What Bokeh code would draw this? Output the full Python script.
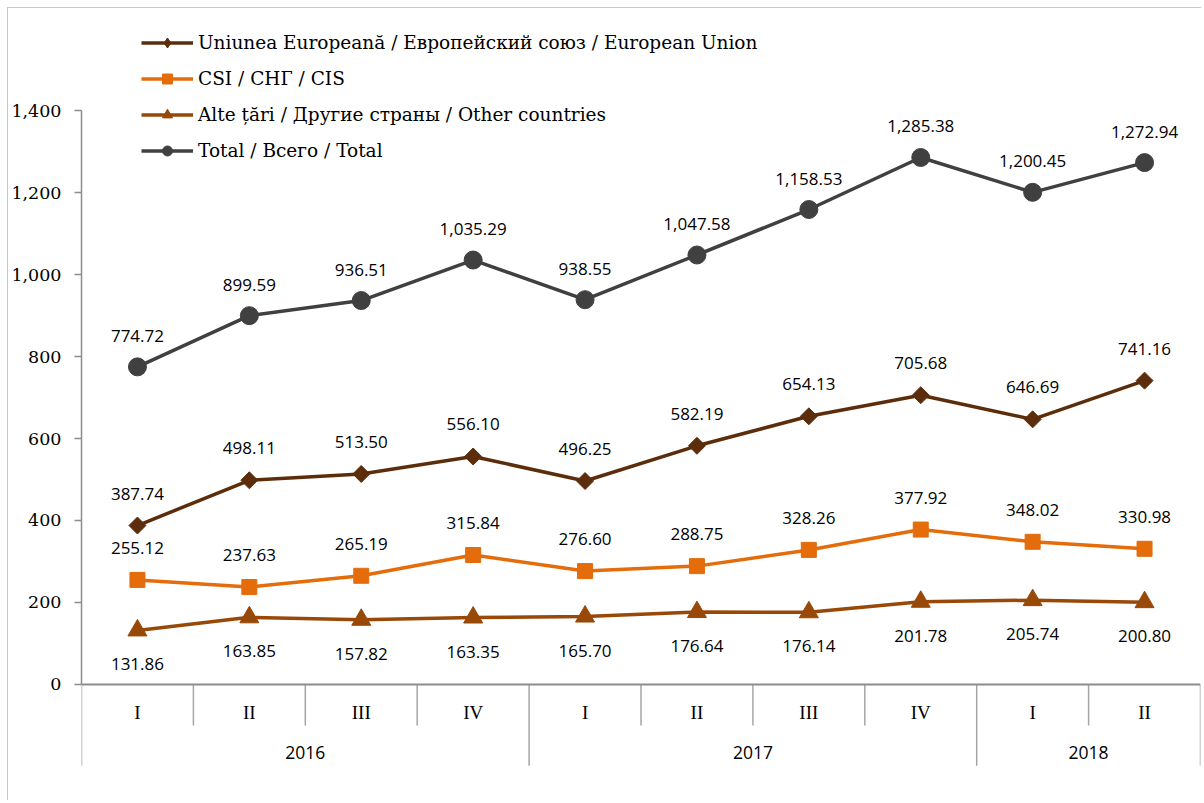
import math
from bokeh.plotting import figure
from bokeh.models import (Range1d, LinearAxis, FixedTicker, NumeralTickFormatter,
                          Span, Legend, LegendItem, ColumnDataSource)
from bokeh.core.properties import value
from bokeh.embed import file_html
from bokeh.resources import INLINE

# ---------------- data ----------------
quarters = ["I", "II", "III", "IV", "I", "II", "III", "IV", "I", "II"]
years = ["2016", "2017", "2018"]
year_counts = [4, 4, 2]

eu = [387.74, 498.11, 513.50, 556.10, 496.25, 582.19, 654.13, 705.68, 646.69, 741.16]
cis = [255.12, 237.63, 265.19, 315.84, 276.60, 288.75, 328.26, 377.92, 348.02, 330.98]
other = [131.86, 163.85, 157.82, 163.35, 165.70, 176.64, 176.14, 201.78, 205.74, 200.80]
total = [774.72, 899.59, 936.51, 1035.29, 938.55, 1047.58, 1158.53, 1285.38, 1200.45, 1272.94]

y_ticks = [0, 200, 400, 600, 800, 1000, 1200, 1400]

labels = [
    "Uniunea Europeană / Европейский союз / European Union",
    "CSI / СНГ / CIS",
    "Alte țări / Другие страны / Other countries",
    "Total / Всего / Total",
]

# ---------------- styles ----------------
C_EU = "#5c2d0b"
C_CIS = "#e46c0a"
C_OTH = "#984807"
C_TOT = "#404040"
AXIS_C = "#8c8c8c"
NUM_FONT = "Open Sans"
SERIF = "DejaVu Serif"

n = len(quarters)
xs = [i + 0.5 for i in range(n)]

p = figure(width=1194, height=793, output_backend="svg", toolbar_location=None,
           x_range=Range1d(0, n), y_range=Range1d(-280.5, 1648.8),
           x_axis_location=None, y_axis_location=None,
           min_border_left=72, min_border_right=2, min_border_top=0, min_border_bottom=2)
p.outline_line_color = None
p.background_fill_color = "white"
p.border_fill_color = "white"
p.xgrid.grid_line_color = None
p.ygrid.grid_line_color = None
p.grid.visible = False
p.styles = {"margin-left": "7px", "margin-top": "7px",
            "border-left": "1px solid #c8c8c8", "border-top": "1px solid #c8c8c8"}

yaxis = LinearAxis(ticker=FixedTicker(ticks=y_ticks),
                   formatter=NumeralTickFormatter(format="0,0"))
yaxis.bounds = (0, 1400)
yaxis.axis_line_color = AXIS_C
yaxis.axis_line_width = 1.5
yaxis.major_tick_line_color = AXIS_C
yaxis.major_tick_line_width = 1.5
yaxis.major_tick_out = 7
yaxis.major_tick_in = 0
yaxis.minor_tick_line_color = None
yaxis.major_label_text_font = SERIF
yaxis.major_label_text_font_size = "17.5px"
yaxis.major_label_text_color = "#000000"
yaxis.major_label_standoff = 13
p.add_layout(yaxis, "left")

# baseline
p.add_layout(Span(location=0, dimension="width", line_color=AXIS_C, line_width=2))

# category separators
bounds = list(range(n + 1))
year_edges = [0]
for c in year_counts:
    year_edges.append(year_edges[-1] + c)
short_b = [b for b in bounds if b not in year_edges]
p.segment(x0=short_b, y0=[0] * len(short_b), x1=short_b, y1=[-100] * len(short_b),
          line_color="#a6a6a6", line_width=1.5)
p.segment(x0=year_edges, y0=[0] * len(year_edges), x1=year_edges,
          y1=[-198] * len(year_edges), line_color="#a6a6a6", line_width=1.5)

# category labels
p.text(x=xs, y=[-68] * n, text=quarters, text_align="center", text_baseline="middle",
       text_font=value("Liberation Serif"), text_font_size="19px", text_color="#000000")
year_x = [(year_edges[i] + year_edges[i + 1]) / 2 for i in range(len(years))]
p.text(x=year_x, y=[-166] * len(years), text=years, text_align="center",
       text_baseline="middle", text_font=value(NUM_FONT), text_font_size="17.5px",
       text_color="#000000")

series = [
    (eu, C_EU, "square", 12, math.pi / 4, -32, "diamond"),
    (cis, C_CIS, "square", 15, 0, -32, "square"),
    (other, C_OTH, "triangle", 19, 0, 34, "triangle"),
    (total, C_TOT, "circle", 18, 0, -31, "circle"),
]

items = []
for (vals, col, mk, sz, ang, off, lmk), lab in zip(series, labels):
    src = ColumnDataSource(dict(x=xs, y=vals,
                                t=[f"{v:,.2f}" for v in vals]))
    lr = p.line("x", "y", source=src, line_color=col, line_width=3.5)
    legr = None
    if lmk != mk:
        # diamond used for the legend sample; hidden under the rotated square
        legr = p.scatter("x", "y", source=src, marker=lmk, size=sz,
                         fill_color=col, line_color=col)
    sr = p.scatter("x", "y", source=src, marker=mk, size=sz, angle=ang,
                   fill_color=col, line_color=col)
    p.text("x", "y", text="t", source=src, y_offset=off, text_align="center",
           text_baseline="middle", text_font=value(NUM_FONT), text_font_size="17px",
           text_color="#000000")
    items.append(LegendItem(label=lab, renderers=[lr, legr if legr is not None else sr]))

legend = Legend(items=items, location=(60, 636), orientation="vertical")
legend.glyph_width = 52
legend.glyph_height = 25
legend.label_height = 25
legend.spacing = 11
legend.padding = 0
legend.margin = 0
legend.label_standoff = 5
legend.border_line_alpha = 0
legend.background_fill_alpha = 0
legend.label_text_font = SERIF
legend.label_text_font_size = "18.5px"
legend.label_text_color = "#000000"
p.add_layout(legend, "center")

open("out.html", "w").write(file_html(p, INLINE))
